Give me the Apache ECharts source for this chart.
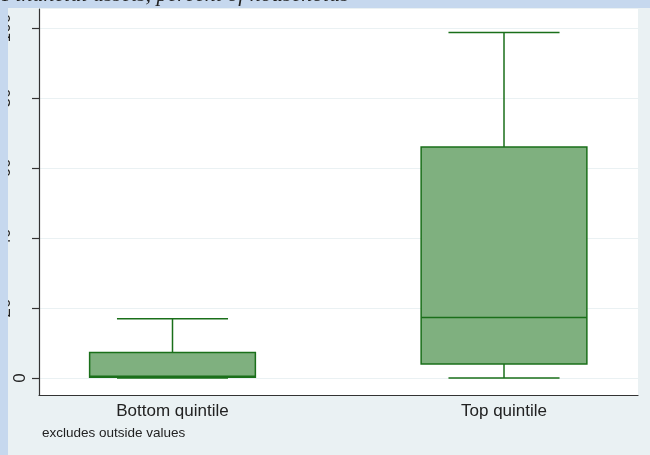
<!DOCTYPE html>
<html>
<head>
<meta charset="utf-8">
<script src="https://cdn.jsdelivr.net/npm/echarts@6/dist/echarts.min.js"></script>
<style>
  html, body { margin: 0; padding: 0; background: #eaf1f3; }
  #chart { width: 650px; height: 455px; }
</style>
</head>
<body>
<div id="chart"></div>
<script>
// ---- data ----
const categories = ['Bottom quintile', 'Top quintile'];
// [low whisker, Q1, median, Q3, high whisker]
const bottomQuintile = [0, 0.2, 0.5, 7.3, 16.9];
const topQuintile = [0, 4.0, 17.3, 66.0, 98.7];
const yTickValues = [0, 20, 40, 60, 80, 100];
const titleText = 'Financial assets, percent of households';
const noteText = 'excludes outside values';

const boxSeriesData = [
  [1].concat(bottomQuintile),
  [2].concat(topQuintile)
];

const STROKE = '#1a6f1a';
const FILL = '#7fb07f';
const BOX_W = 0.5;   // in x-axis units
const CAP_W = 0.335;

function renderBox(params, api) {
  const x = api.value(0);
  const lo = api.value(1), q1 = api.value(2), med = api.value(3), q3 = api.value(4), hi = api.value(5);
  const pL = api.coord([x - BOX_W / 2, q3]);
  const pR = api.coord([x + BOX_W / 2, q1]);
  const cL = api.coord([x - CAP_W / 2, 0])[0];
  const cR = api.coord([x + CAP_W / 2, 0])[0];
  const cx = api.coord([x, 0])[0];
  const yLo = api.coord([x, lo])[1];
  const yHi = api.coord([x, hi])[1];
  const yMed = api.coord([x, med])[1];
  const ls = { stroke: STROKE, lineWidth: 1.5, fill: null };
  return {
    type: 'group',
    children: [
      { type: 'line', shape: { x1: cx, y1: pL[1], x2: cx, y2: yHi }, style: ls },
      { type: 'line', shape: { x1: cL, y1: yHi, x2: cR, y2: yHi }, style: ls },
      { type: 'line', shape: { x1: cx, y1: pR[1], x2: cx, y2: yLo }, style: ls },
      { type: 'line', shape: { x1: cL, y1: yLo, x2: cR, y2: yLo }, style: ls },
      { type: 'rect', shape: { x: pL[0], y: pL[1], width: pR[0] - pL[0], height: pR[1] - pL[1] },
        style: { fill: FILL, stroke: STROKE, lineWidth: 1.5 } },
      { type: 'line', shape: { x1: pL[0], y1: yMed, x2: pR[0], y2: yMed }, style: ls }
    ]
  };
}

const chart = echarts.init(document.getElementById('chart'), null, { renderer: 'canvas' });
chart.setOption({
  animation: false,
  backgroundColor: '#eaf1f3',
  title: {
    text: titleText,
    left: -3,
    top: -21,
    z: 200,
    textStyle: { fontFamily: 'Liberation Serif', fontStyle: 'italic', fontWeight: 'normal', fontSize: 22, color: '#222' }
  },
  graphic: [
    { type: 'rect', left: 0, top: 0, shape: { width: 8, height: 455 }, style: { fill: '#c6d8ee' }, z: 100 },
    { type: 'rect', left: 0, top: 0, shape: { width: 650, height: 8 }, style: { fill: '#c6d8ee' }, z: 100 },
    { type: 'text', left: 42, top: 426, style: { text: noteText, font: '13.5px "Liberation Sans"', fill: '#222' } }
  ],
  grid: {
    left: 39, right: 12, top: 9, bottom: 60,
    containLabel: false,
    outerBoundsMode: 'none',
    show: true, backgroundColor: '#ffffff', borderWidth: 0
  },
  xAxis: {
    type: 'value',
    min: 0.5973, max: 2.4042,
    splitLine: { show: false },
    axisTick: { show: false },
    axisLine: { show: true, onZero: false, lineStyle: { color: '#333', width: 1.2 } },
    axisLabel: {
      customValues: [1, 2],
      formatter: function (v) { return categories[Math.round(v) - 1] || ''; },
      fontFamily: 'Liberation Sans', fontSize: 17, color: '#222', margin: 8
    }
  },
  yAxis: {
    type: 'value',
    min: -4.857, max: 105.43,
    axisLine: { show: true, onZero: false, lineStyle: { color: '#333', width: 1.2 } },
    axisTick: { show: true, customValues: yTickValues, length: 7, lineStyle: { color: '#333', width: 1.2 } },
    splitLine: { show: true, lineStyle: { color: '#eaf1f3', width: 1.2 } },
    axisLabel: {
      customValues: yTickValues,
      rotate: 90,
      margin: 10,
      fontFamily: 'Liberation Sans', fontSize: 17, color: '#222',
      formatter: function (v) { return v === 0 ? '{z|0}' : '{n|' + v + '}'; },
      rich: {
        z: { fontFamily: 'Liberation Sans', fontSize: 17, color: '#222' },
        n: { fontFamily: 'Liberation Sans', fontSize: 17, color: '#222', padding: [0, 0, 15, 0] }
      }
    }
  },
  series: [{
    type: 'custom',
    renderItem: renderBox,
    encode: { x: 0, y: [1, 2, 3, 4, 5] },
    data: boxSeriesData,
    clip: false
  }]
});
</script>
</body>
</html>
